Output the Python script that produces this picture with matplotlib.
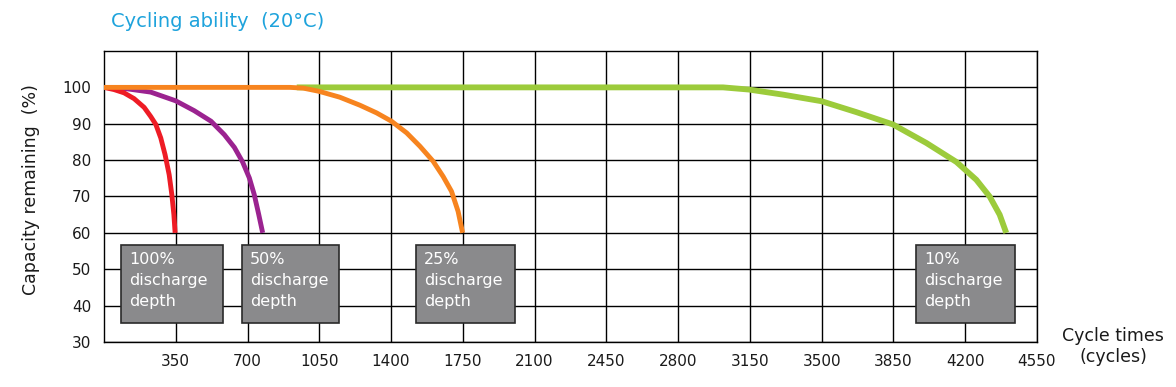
import matplotlib.pyplot as plt
from matplotlib.patches import Rectangle

# cycles vs capacity remaining (%)
red_x = [0, 49, 98, 147, 196, 228, 253, 277, 298, 318, 331, 341, 347]
red_y = [100, 99.4, 98.5, 96.9, 94.5, 92.0, 89.8, 86.1, 81.5, 76, 70.5, 65, 60]

purple_x = [0, 114, 228, 350, 440, 522, 587, 636, 676, 709, 733, 755, 774]
purple_y = [100, 99.6, 98.7, 96.3, 93.6, 90.7, 87, 83.5, 79.5, 75.1, 70.5, 65, 60]

orange_x = [0, 907, 972, 1050, 1150, 1248, 1329, 1402, 1476, 1541, 1605,
            1654, 1695, 1727, 1749]
orange_y = [100, 100, 99.8, 98.9, 97.3, 95.1, 93.0, 90.7, 87.5, 83.8, 79.7,
            75.5, 71.4, 65.9, 60]

green_x = [940, 3019, 3146, 3312, 3499, 3669, 3848, 4011, 4157, 4254, 4319,
           4368, 4400]
green_y = [100, 100, 99.4, 98, 96.2, 93.2, 89.8, 84.7, 79.5, 74.6, 70, 65, 60]

depth_labels = ["100%\ndischarge\ndepth", "50%\ndischarge\ndepth",
                "25%\ndischarge\ndepth", "10%\ndischarge\ndepth"]
x_ticks = [350, 700, 1050, 1400, 1750, 2100, 2450, 2800, 3150, 3500,
           3850, 4200, 4550]
y_ticks = [30, 40, 50, 60, 70, 80, 90, 100]

# label box placement (left, right) in cycles
box_x = [(83, 580), (673, 1146), (1521, 2005), (3958, 4441)]

fig = plt.figure(figsize=(11.76, 3.87), dpi=100)
ax = fig.add_axes([0.0884, 0.1163, 0.7934, 0.7519])

ax.set_xlim(0, 4550)
ax.set_ylim(30, 110)
ax.set_xticks(x_ticks)
ax.set_yticks(y_ticks)
ax.grid(True, color='black', lw=1.0)
ax.tick_params(length=0, labelsize=11, pad=9, colors='#1a1a1a')
for s in ax.spines.values():
    s.set_color('black')
    s.set_linewidth(1.0)
ax.set_axisbelow(True)

kw = dict(solid_joinstyle='round', solid_capstyle='butt')
ax.plot(green_x, green_y, color='#9ccb3b', lw=4.2, zorder=3, **kw)
ax.plot(purple_x, purple_y, color='#9b2390', lw=3.5, zorder=4, **kw)
ax.plot(red_x, red_y, color='#ee1c25', lw=3.5, zorder=5, **kw)
ax.plot(orange_x, orange_y, color='#f7841f', lw=3.5, zorder=6, **kw)

for (x0, x1), lab in zip(box_x, depth_labels):
    ax.add_patch(Rectangle((x0, 35.3), x1 - x0, 56.6 - 35.3,
                           facecolor='#8a8a8c', edgecolor='#2a2a2a',
                           lw=1.2, zorder=7))
    ax.text(x0 + 40, 54.8, lab, color='white', fontsize=11.5,
            va='top', ha='left', linespacing=1.5, zorder=8)

fig.text(0.094, 0.945, "Cycling ability  (20°C)", color='#1ea3dc',
         fontsize=14, va='center', ha='left')
fig.text(0.026, 0.51, "Capacity remaining  (%)", rotation=90,
         fontsize=12.5, va='center', ha='center', color='#1a1a1a')
fig.text(0.99, 0.105, "Cycle times\n(cycles)", fontsize=12.5,
         ha='right', va='center', multialignment='center', color='#1a1a1a')

fig.savefig('out.png', dpi=100)
